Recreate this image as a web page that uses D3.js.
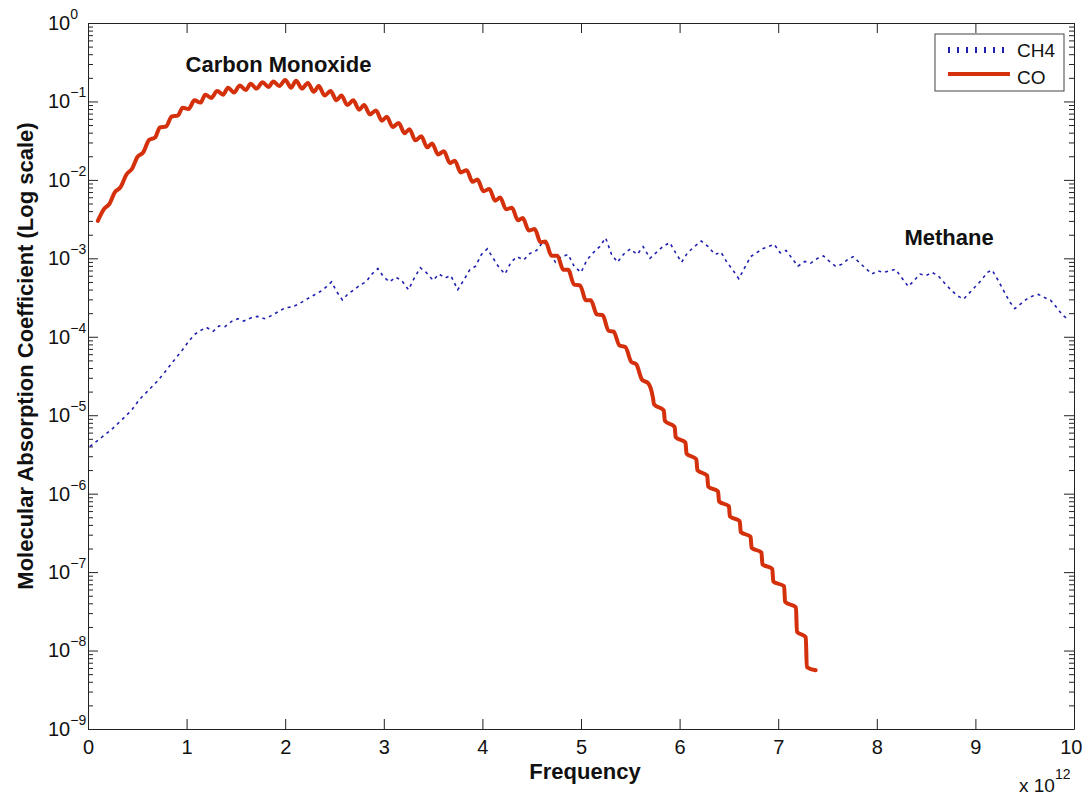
<!DOCTYPE html>
<html>
<head>
<meta charset="utf-8">
<script src="https://cdn.jsdelivr.net/npm/d3@7"></script>
<style>
  body { margin: 0; background: #fff; }
  svg text { font-family: Arial, "Liberation Sans", sans-serif; fill: #111; }
</style>
</head>
<body>
<svg id="chart" width="1084" height="795"></svg>
<script>
// frequency in units of 10^12 Hz (axis shows "x 10^12")
const coFreq = [
  0.10, 0.16, 0.22, 0.27, 0.33, 0.39, 0.45, 0.50, 0.56, 0.62,
  0.68, 0.73, 0.79, 0.85, 0.91, 0.96, 1.02, 1.08, 1.14, 1.19,
  1.25, 1.31, 1.37, 1.42, 1.48, 1.54, 1.60, 1.65, 1.71, 1.77,
  1.83, 1.88, 1.94, 2.00, 2.06, 2.11, 2.17, 2.23, 2.29, 2.34,
  2.40, 2.46, 2.52, 2.57, 2.63, 2.69, 2.75, 2.80, 2.86, 2.92,
  2.98, 3.03, 3.09, 3.15, 3.21, 3.26, 3.32, 3.38, 3.44, 3.49,
  3.55, 3.61, 3.67, 3.72, 3.78, 3.84, 3.90, 3.95, 4.01, 4.07,
  4.13, 4.18, 4.24, 4.30, 4.36, 4.41, 4.47, 4.53, 4.59, 4.64,
  4.70, 4.76, 4.82, 4.87, 4.93, 4.99, 5.05, 5.10, 5.16, 5.22,
  5.28, 5.33, 5.39, 5.45, 5.51, 5.56, 5.62, 5.68,
  5.73, 5.74, 5.84, 5.85, 5.95, 5.96, 6.06, 6.07, 6.17, 6.18,
  6.28, 6.29, 6.39, 6.40, 6.50, 6.51, 6.61, 6.62, 6.72, 6.73,
  6.83, 6.84, 6.94, 6.95, 7.06, 7.07, 7.18, 7.19, 7.28, 7.29,
  7.38
];
const coAbs = [
  3.0e-3, 4.2e-3, 5.0e-3, 6.9e-3, 8.1e-3, 1.17e-2, 1.41e-2, 1.95e-2, 2.24e-2, 3.24e-2,
  3.47e-2, 4.68e-2, 4.79e-2, 6.46e-2, 6.6e-2, 8.32e-2, 8.04e-2, 1.035e-1, 9.66e-2, 1.22e-1,
  1.11e-1, 1.36e-1, 1.22e-1, 1.50e-1, 1.30e-1, 1.60e-1, 1.40e-1, 1.68e-1, 1.46e-1, 1.76e-1,
  1.53e-1, 1.80e-1, 1.57e-1, 1.88e-1, 1.50e-1, 1.84e-1, 1.46e-1, 1.72e-1, 1.33e-1, 1.57e-1,
  1.19e-1, 1.36e-1, 1.035e-1, 1.19e-1, 9.0e-2, 1.035e-1, 7.85e-2, 9.0e-2, 6.84e-2, 7.67e-2,
  5.69e-2, 6.38e-2, 4.73e-2, 5.31e-2, 3.94e-2, 4.42e-2, 3.20e-2, 3.59e-2, 2.60e-2, 2.92e-2,
  2.11e-2, 2.32e-2, 1.64e-2, 1.76e-2, 1.245e-2, 1.33e-2, 9.44e-3, 1.01e-2, 7.16e-3, 7.67e-3,
  5.43e-3, 5.96e-3, 4.22e-3, 4.42e-3, 3.05e-3, 3.27e-3, 2.26e-3, 2.37e-3, 1.60e-3, 1.64e-3,
  1.08e-3, 1.08e-3, 7.16e-4, 7.16e-4, 4.62e-4, 4.52e-4, 2.92e-4, 2.92e-4, 1.93e-4, 1.88e-4,
  1.19e-4, 1.17e-4, 7.76e-5, 7.41e-5, 4.79e-5, 4.47e-5, 2.82e-5, 2.57e-5,
  1.66e-5, 1.38e-5, 1.15e-5, 8.5e-6, 7.08e-6, 5.25e-6, 4.47e-6, 3.24e-6, 2.75e-6, 2.0e-6,
  1.70e-6, 1.23e-6, 1.07e-6, 7.94e-7, 6.92e-7, 5.13e-7, 4.47e-7, 3.24e-7, 2.82e-7, 2.04e-7,
  1.78e-7, 1.26e-7, 1.10e-7, 7.59e-8, 6.61e-8, 4.17e-8, 3.55e-8, 1.74e-8, 1.48e-8, 6.17e-9,
  5.62e-9
];

const ch4Freq = [
  0.02, 0.12, 0.24, 0.35, 0.44, 0.52, 0.60, 0.70, 0.78, 0.86,
  0.95, 1.02, 1.08, 1.14, 1.20, 1.27, 1.33, 1.39, 1.46, 1.52,
  1.58, 1.65, 1.72, 1.79, 1.86, 1.93, 2.00, 2.07, 2.14, 2.22,
  2.29, 2.36, 2.42, 2.47, 2.52, 2.58, 2.64, 2.70, 2.76, 2.82,
  2.88, 2.94, 3.00, 3.06, 3.12, 3.18, 3.25, 3.31, 3.37, 3.43,
  3.50, 3.56, 3.62, 3.68, 3.75, 3.81, 3.87, 3.93, 3.99, 4.05,
  4.11, 4.17, 4.23, 4.29, 4.35, 4.42, 4.48, 4.55, 4.62, 4.68,
  4.74, 4.80, 4.87, 4.93, 5.00, 5.06, 5.13, 5.19, 5.25, 5.31,
  5.37, 5.43, 5.50, 5.57, 5.63, 5.70, 5.76, 5.83, 5.90, 5.96,
  6.02, 6.08, 6.15, 6.22, 6.29, 6.36, 6.42, 6.48, 6.54, 6.60,
  6.66, 6.72, 6.78, 6.84, 6.90, 6.96, 7.02, 7.08, 7.14, 7.20,
  7.27, 7.33, 7.40, 7.46, 7.52, 7.58, 7.64, 7.70, 7.76, 7.82,
  7.88, 7.95, 8.01, 8.07, 8.13, 8.19, 8.26, 8.32, 8.38, 8.44,
  8.50, 8.56, 8.62, 8.69, 8.75, 8.82, 8.88, 8.94, 9.00, 9.06,
  9.12, 9.17, 9.23, 9.29, 9.35, 9.40, 9.46, 9.52, 9.58, 9.64,
  9.70, 9.76, 9.82, 9.88, 9.94
];
const ch4Abs = [
  4.0e-6, 5.0e-6, 6.6e-6, 8.9e-6, 1.15e-5, 1.58e-5, 2.0e-5, 2.69e-5, 3.55e-5, 4.79e-5,
  6.61e-5, 8.71e-5, 1.07e-4, 1.20e-4, 1.32e-4, 1.175e-4, 1.38e-4, 1.35e-4, 1.585e-4, 1.70e-4,
  1.585e-4, 1.74e-4, 1.82e-4, 1.70e-4, 1.86e-4, 2.09e-4, 2.34e-4, 2.40e-4, 2.63e-4, 3.02e-4,
  3.39e-4, 3.80e-4, 4.37e-4, 5.01e-4, 3.80e-4, 2.95e-4, 3.55e-4, 3.98e-4, 4.57e-4, 5.01e-4,
  6.31e-4, 7.41e-4, 5.75e-4, 5.01e-4, 5.75e-4, 5.25e-4, 3.98e-4, 5.62e-4, 7.59e-4, 6.61e-4,
  5.25e-4, 6.31e-4, 5.62e-4, 6.03e-4, 3.98e-4, 5.25e-4, 7.08e-4, 7.94e-4, 1.12e-3, 1.32e-3,
  1.0e-3, 7.59e-4, 6.31e-4, 8.91e-4, 1.047e-3, 9.55e-4, 1.15e-3, 1.26e-3, 1.66e-3, 1.26e-3,
  8.91e-4, 1.05e-3, 1.12e-3, 7.94e-4, 6.61e-4, 9.55e-4, 1.20e-3, 1.41e-3, 1.82e-3, 1.12e-3,
  8.91e-4, 1.12e-3, 1.32e-3, 1.12e-3, 1.41e-3, 1.0e-3, 1.175e-3, 1.41e-3, 1.585e-3, 1.175e-3,
  8.91e-4, 1.175e-3, 1.41e-3, 1.66e-3, 1.41e-3, 1.12e-3, 1.20e-3, 8.91e-4, 7.08e-4, 5.50e-4,
  7.59e-4, 1.05e-3, 1.175e-3, 1.32e-3, 1.41e-3, 1.51e-3, 1.175e-3, 1.26e-3, 1.0e-3, 7.94e-4,
  9.12e-4, 8.71e-4, 1.0e-3, 1.07e-3, 9.12e-4, 7.94e-4, 8.32e-4, 9.55e-4, 1.05e-3, 8.91e-4,
  7.59e-4, 6.31e-4, 6.92e-4, 6.61e-4, 6.92e-4, 7.24e-4, 5.50e-4, 4.37e-4, 5.25e-4, 6.31e-4,
  6.03e-4, 6.61e-4, 6.03e-4, 4.79e-4, 3.98e-4, 3.31e-4, 3.02e-4, 3.63e-4, 4.37e-4, 5.25e-4,
  6.61e-4, 7.08e-4, 5.25e-4, 3.80e-4, 2.75e-4, 2.29e-4, 2.63e-4, 3.02e-4, 3.31e-4, 3.47e-4,
  3.16e-4, 2.95e-4, 2.40e-4, 1.91e-4, 1.66e-4
];

const xTicks = [0, 1, 2, 3, 4, 5, 6, 7, 8, 9, 10];
const yTicks = [1e-9, 1e-8, 1e-7, 1e-6, 1e-5, 1e-4, 1e-3, 1e-2, 1e-1, 1];
const yMinorSteps = [2, 3, 4, 5, 6, 7, 8, 9];
const seriesNames = ["CH4", "CO"];
const annotations = [
  { text: "Carbon Monoxide", f: 0.99, v: 0.24 },
  { text: "Methane", f: 8.28, v: 1.48e-3 }
];

// plot box
const boxLeft = 88, boxRight = 1074, boxTop = 23, boxBottom = 729;
const fontStack = "Arial, 'Liberation Sans', sans-serif";
const coColor = "#d4300c";
const ch4Color = "#2020b0";

const svg = d3.select("#chart");

const x = d3.scaleLinear().domain([0, 10]).range([boxLeft, boxRight]);
const y = d3.scaleLog().domain([1e-9, 1]).range([boxBottom, boxTop]);

// minor ticks between decades
const yMinor = [];
yTicks.slice(0, -1).forEach(d => yMinorSteps.forEach(s => yMinor.push(d * s)));

function styleAxis(g) {
  g.attr("font-family", fontStack);
  g.selectAll("path, line").attr("stroke", "#222").attr("stroke-width", 1);
}

// ---- axes ----
svg.append("g")
  .attr("transform", `translate(0,${boxBottom})`)
  .call(d3.axisBottom(x).tickValues(xTicks).tickFormat(d3.format("d"))
    .tickSizeInner(-10).tickSizeOuter(0).tickPadding(11))
  .call(styleAxis)
  .call(g => g.selectAll("text").attr("font-size", 20).attr("fill", "#111"))
  // last label sits at the page edge, keep it inside
  .call(g => g.selectAll(".tick text").filter(d => d === 10)
    .attr("text-anchor", "end").attr("dx", 8));

svg.append("g")
  .attr("transform", `translate(0,${boxTop})`)
  .call(d3.axisTop(x).tickValues(xTicks).tickFormat("").tickSizeInner(-10).tickSizeOuter(0))
  .call(styleAxis);

// left: major + minor
const yLeft = svg.append("g")
  .attr("transform", `translate(${boxLeft},0)`)
  .call(d3.axisLeft(y).tickValues(yTicks).tickFormat("").tickSizeInner(-10).tickSizeOuter(0))
  .call(styleAxis);

svg.append("g")
  .attr("transform", `translate(${boxLeft},0)`)
  .call(d3.axisLeft(y).tickValues(yMinor).tickFormat("").tickSizeInner(-5).tickSizeOuter(0))
  .call(styleAxis)
  .call(g => g.select(".domain").remove());

// right: major + minor
svg.append("g")
  .attr("transform", `translate(${boxRight},0)`)
  .call(d3.axisRight(y).tickValues(yTicks).tickFormat("").tickSizeInner(-10).tickSizeOuter(0))
  .call(styleAxis);

svg.append("g")
  .attr("transform", `translate(${boxRight},0)`)
  .call(d3.axisRight(y).tickValues(yMinor).tickFormat("").tickSizeInner(-5).tickSizeOuter(0))
  .call(styleAxis)
  .call(g => g.select(".domain").remove());

// y tick labels as 10^n
yLeft.selectAll(".tick text").each(function (d) {
  const e = Math.round(Math.log10(d));
  const t = d3.select(this)
    .text(null)
    .attr("x", -40)
    .attr("dy", "0.32em")
    .attr("text-anchor", "start")
    .attr("font-size", 20)
    .attr("fill", "#111");
  t.append("tspan").text("10");
  t.append("tspan").attr("dy", -11).attr("font-size", 14)
    .text(e === 0 ? "0" : "\u2212" + Math.abs(e));
});

// exponent note under the x axis
const xNote = svg.append("text")
  .attr("x", 1019).attr("y", 792)
  .attr("font-size", 19);
xNote.append("tspan").text("x 10");
xNote.append("tspan").attr("dy", -13).attr("font-size", 14).text("12");

// ---- axis titles ----
svg.append("text")
  .attr("x", (boxLeft + boxRight) / 2 + 4).attr("y", 779)
  .attr("text-anchor", "middle")
  .attr("font-size", 22).attr("font-weight", "bold")
  .text("Frequency");

svg.append("text")
  .attr("transform", "translate(33,356) rotate(-90)")
  .attr("text-anchor", "middle")
  .attr("font-size", 22).attr("font-weight", "bold")
  .text("Molecular Absorption Coefficient (Log scale)");

// ---- series ----
const ch4Data = ch4Freq.map((f, i) => [f, ch4Abs[i]]);
const coData = coFreq.map((f, i) => [f, coAbs[i]]);

const ch4Line = d3.line().x(d => x(d[0])).y(d => y(d[1]));
const coLine = d3.line().x(d => x(d[0])).y(d => y(d[1])).curve(d3.curveMonotoneX);

svg.append("path")
  .datum(ch4Data)
  .attr("d", ch4Line)
  .attr("fill", "none")
  .attr("stroke", ch4Color)
  .attr("stroke-width", 1.6)
  .attr("stroke-dasharray", "3,4");

svg.append("path")
  .datum(coData)
  .attr("d", coLine)
  .attr("fill", "none")
  .attr("stroke", coColor)
  .attr("stroke-width", 4)
  .attr("stroke-linejoin", "round")
  .attr("stroke-linecap", "round");

// ---- annotations ----
svg.selectAll(".note")
  .data(annotations)
  .enter()
  .append("text")
  .attr("class", "note")
  .attr("x", d => x(d.f))
  .attr("y", d => y(d.v))
  .attr("font-size", 22).attr("font-weight", "bold")
  .text(d => d.text);

// ---- legend ----
const legend = svg.append("g").attr("transform", "translate(935,34)");
legend.append("rect")
  .attr("width", 129).attr("height", 57)
  .attr("fill", "#fff").attr("stroke", "#444").attr("stroke-width", 1);

legend.append("line")
  .attr("x1", 13).attr("x2", 74).attr("y1", 16).attr("y2", 16)
  .attr("stroke", ch4Color).attr("stroke-width", 6).attr("stroke-dasharray", "2,7");
legend.append("line")
  .attr("x1", 13).attr("x2", 75).attr("y1", 40).attr("y2", 40)
  .attr("stroke", coColor).attr("stroke-width", 4);

legend.selectAll(".leg-label")
  .data(seriesNames)
  .enter()
  .append("text")
  .attr("class", "leg-label")
  .attr("x", 82)
  .attr("y", (d, i) => 23 + i * 27)
  .attr("font-size", 19)
  .text(d => d);
</script>
</body>
</html>
